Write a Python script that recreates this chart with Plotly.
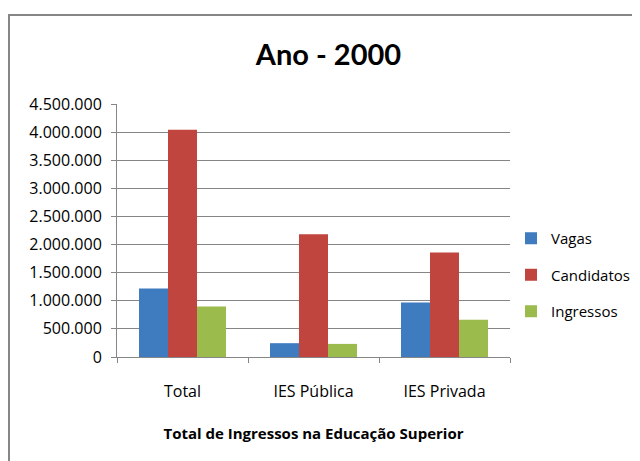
import plotly.graph_objects as go

categories = ["Total", "IES Pública", "IES Privada"]
vagas = [1216287, 245632, 970655]
candidatos = [4039910, 2183155, 1856755]
ingressos = [897557, 233083, 664474]
series_names = ["Vagas", "Candidatos", "Ingressos"]
colors = ["#3F7BBF", "#C0453F", "#9BBB4C"]
tick_vals = [0, 500000, 1000000, 1500000, 2000000, 2500000, 3000000, 3500000, 4000000, 4500000]
tick_text = ["0", "500.000", "1.000.000", "1.500.000", "2.000.000", "2.500.000",
             "3.000.000", "3.500.000", "4.000.000", "4.500.000"]

# page body has an 8px margin; figure is sized to fill the rest of the window
OFF = 8
W, H = 632, 453
L, T, B, R = 109, 96, 104, 0
pw, ph = W - L - R, H - T - B
x_end = (502 - L) / pw


def px(xs):
    return (xs - OFF - L) / pw


def py(ys):
    return (H - B - (ys - OFF)) / ph


fig = go.Figure()
for i, (name, vals) in enumerate(zip(series_names, [vagas, candidatos, ingressos])):
    fig.add_trace(go.Bar(x=categories, y=vals, name=name, marker_color=colors[i],
                         marker_line_width=0, legendgroup=name))

fig.update_layout(
    width=W, height=H,
    margin=dict(l=L, r=R, t=T, b=B, autoexpand=False),
    paper_bgcolor="white", plot_bgcolor="white",
    barmode="group", bargap=0.336, bargroupgap=0,
    font=dict(family="Open Sans, sans-serif", size=16, color="#000000"),
    title=dict(text="<b>Ano - 2000</b>", x=(328.5 - OFF) / W, xanchor="center",
               y=1 - (55 - OFF) / H, yanchor="middle",
               font=dict(family="Lato, sans-serif", size=29, color="#000000")),
    legend=dict(x=px(552 - 41), y=py(222), xanchor="left", yanchor="top",
                font=dict(size=15), tracegroupgap=14, bgcolor="rgba(0,0,0,0)"),
    showlegend=True,
)
fig.update_xaxes(
    domain=[0, x_end],
    showline=True, linecolor="#868686", linewidth=1,
    ticks="outside", tickson="boundaries", ticklen=5, tickcolor="#868686",
    ticklabelstandoff=20,
    title=dict(text="<b>Total de Ingressos na Educação Superior</b>", standoff=27,
               font=dict(size=15)),
)
fig.update_yaxes(
    range=[0, 4500000], tickvals=tick_vals, ticktext=tick_text,
    showgrid=True, gridcolor="#868686", gridwidth=1,
    showline=True, linecolor="#868686", linewidth=1,
    ticks="outside", ticklen=5, tickcolor="#868686",
    ticklabelstandoff=6, zeroline=False,
)
fig.add_shape(type="rect", xref="paper", yref="paper",
              x0=px(9), x1=px(700), y0=py(520), y1=py(15),
              line=dict(color="#868686", width=2), fillcolor="rgba(0,0,0,0)", layer="below")

fig.write_html("out.html")
